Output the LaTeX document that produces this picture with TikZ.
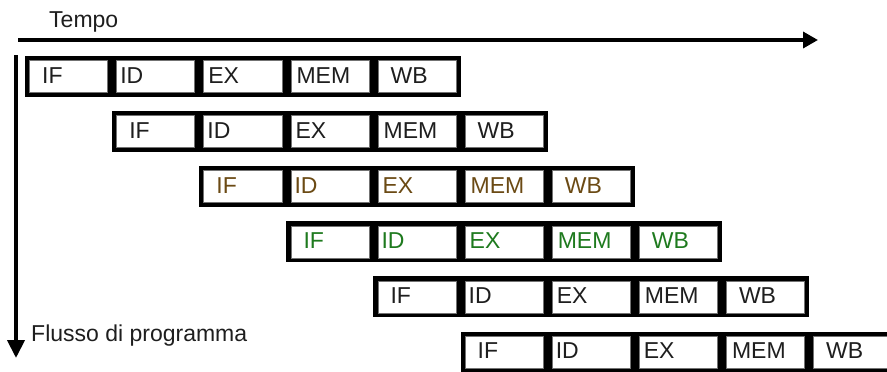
\documentclass[tikz,border=0pt]{standalone}
\usepackage{fontspec}
\setmainfont{Liberation Sans}
\usetikzlibrary{arrows.meta}
\definecolor{txtgray}{HTML}{1E1E1E}
\definecolor{txtbrown}{HTML}{6B4A14}
\definecolor{txtgreen}{HTML}{1E7A1E}
\begin{document}
\begin{tikzpicture}[x=1pt,y=-1pt,
  cellbox/.style={fill=white, draw=black!55, line width=0.5pt},
  lbl/.style={anchor=base west, inner sep=0pt, font=\fontsize{23}{27}\selectfont},
  axisline/.style={line width=3.5pt}]
\useasboundingbox (0,0) rectangle (887,372);
\clip (0,0) rectangle (887,372);
% axes
\coordinate (tstart) at (18,40);
\coordinate (tend) at (818,40);
\draw[axisline,-{Triangle[length=15pt,width=16pt]}] (tstart) -- (tend);
\coordinate (fstart) at (16,55);
\coordinate (fend) at (16,358);
\draw[line width=4pt,-{Triangle[length=18pt,width=17pt]}] (fstart) -- (fend);
\node[lbl,text=txtgray] (tempo) at (49,27.3) {Tempo};
\node[lbl,text=txtgray] (flusso) at (31,341.7) {Flusso di programma};
% pipeline rows
\foreach \r/\col in {0/txtgray,1/txtgray,2/txtbrown,3/txtgreen,4/txtgray,5/txtgray} {
  \pgfmathsetmacro\xo{25+87.1*\r}
  \pgfmathsetmacro\yo{56+55.1*\r}
  \fill[black] (\xo,\yo) rectangle ++(435.5,41);
  \foreach \k/\s/\off in {0/IF/17,1/ID/8,2/EX/9,3/MEM/10,4/WB/17} {
    \pgfmathsetmacro\cx{\xo+87.1*\k}
    \filldraw[cellbox] (\cx+4.5,\yo+4.5) rectangle (\cx+87.1-4.5,\yo+41-4.5);
    \node[lbl,text=\col] (s\r\k) at (\cx+\off,\yo+27) {\s};
  }
}
\end{tikzpicture}
\end{document}
